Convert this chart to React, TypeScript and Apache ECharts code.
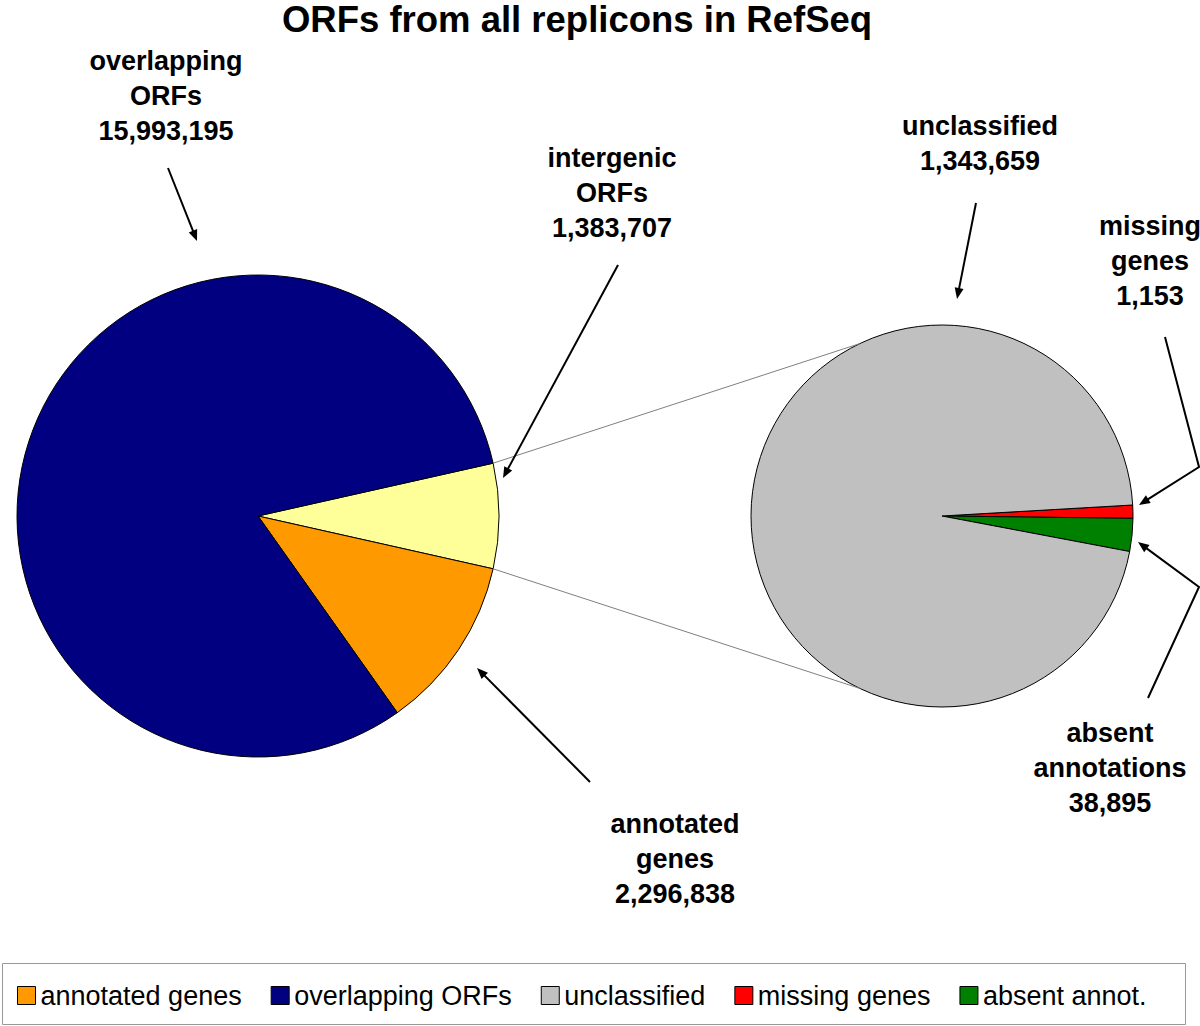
import React, { useEffect, useRef } from 'react';
import * as echarts from 'echarts';

// ---- data ----
const titleText = 'ORFs from all replicons in RefSeq';
const mainNames = ['intergenic ORFs', 'annotated genes', 'overlapping ORFs'];
const mainValues = [1383707, 2296838, 15993195];
const mainColors = ['#FFFF99', '#FF9900', '#000080'];
const subNames = ['missing genes', 'absent annot.', 'unclassified'];
const subValues = [1153, 38895, 1343659];
const subColors = ['#FF0000', '#008000', '#C0C0C0'];
const legendNames = ['annotated genes', 'overlapping ORFs', 'unclassified', 'missing genes', 'absent annot.'];

const fmt = (v: number) => v.toLocaleString('en-US');

// ---- layout ----
const FONT = "'Liberation Sans', Arial, Helvetica, sans-serif";
const MAIN_C = [258, 516];
const MAIN_R = 241;
const SUB_C = [942, 516];
const SUB_R = 191;
const SUB_START = 3.3;
const CONNECT_ANGLE = 115.5;

const callouts = [
  { text: 'overlapping\nORFs\n' + fmt(mainValues[2]), x: 166, y: 61, pts: [[168, 168], [197, 241]] },
  { text: 'intergenic\nORFs\n' + fmt(mainValues[0]), x: 612, y: 158, pts: [[618, 265], [503, 478]] },
  { text: 'annotated\ngenes\n' + fmt(mainValues[1]), x: 675, y: 824, pts: [[590, 782], [477, 668]] },
  { text: 'unclassified\n' + fmt(subValues[2]), x: 980, y: 126, pts: [[976, 203], [957, 299]] },
  { text: 'missing\ngenes\n' + fmt(subValues[0]), x: 1150, y: 226, pts: [[1165, 337], [1199, 467], [1139, 505]] },
  { text: 'absent\nannotations\n' + fmt(subValues[1]), x: 1110, y: 733, pts: [[1148, 698], [1199, 587], [1138, 542]] },
];

function polar(c: number[], r: number, deg: number) {
  const a = (deg * Math.PI) / 180;
  return [c[0] + r * Math.cos(a), c[1] - r * Math.sin(a)];
}

function arrow(pts: number[][]) {
  const els: any[] = [];
  const n = pts.length;
  const tip = pts[n - 1];
  const prev = pts[n - 2];
  const dx = tip[0] - prev[0];
  const dy = tip[1] - prev[1];
  const len = Math.hypot(dx, dy);
  const ux = dx / len;
  const uy = dy / len;
  const L = 11;
  const W = 4.5;
  const base = [tip[0] - ux * L, tip[1] - uy * L];
  const linePts = pts.slice(0, n - 1).concat([[tip[0] - ux * (L - 2), tip[1] - uy * (L - 2)]]);
  els.push({
    type: 'polyline',
    silent: true,
    z: 100,
    shape: { points: linePts },
    style: { stroke: '#000', lineWidth: 2, fill: null },
  });
  els.push({
    type: 'polygon',
    silent: true,
    z: 100,
    shape: {
      points: [
        tip,
        [base[0] - uy * W, base[1] + ux * W],
        [base[0] + uy * W, base[1] - ux * W],
      ],
    },
    style: { fill: '#000' },
  });
  return els;
}

export default function App() {
  const ref = useRef<HTMLDivElement>(null);
  useEffect(() => {
    if (!ref.current) return;
    const chart = echarts.init(ref.current, null, { renderer: 'svg' });
    const mainSum = mainValues.reduce((a, b) => a + b, 0);
    const half = (180 * mainValues[0]) / mainSum;

    const graphics: any[] = [];
    graphics.push({
      type: 'text',
      x: 577,
      y: 19,
      silent: true,
      style: {
        text: titleText,
        fontSize: 36.5,
        fontWeight: 'bold',
        fontFamily: FONT,
        fill: '#000',
        textAlign: 'center',
        textVerticalAlign: 'middle',
      },
    });
    // connector lines between pies
    [1, -1].forEach((s) => {
      const a = polar(MAIN_C, MAIN_R, s * half);
      const b = polar(SUB_C, SUB_R, s * CONNECT_ANGLE);
      graphics.push({
        type: 'line',
        silent: true,
        z: 50,
        shape: { x1: a[0], y1: a[1], x2: b[0], y2: b[1] },
        style: { stroke: '#808080', lineWidth: 1 },
      });
    });
    callouts.forEach((c) => {
      graphics.push({
        type: 'text',
        x: c.x,
        y: c.y - 17.5,
        silent: true,
        z: 100,
        style: {
          text: c.text,
          fontSize: 27,
          fontWeight: 'bold',
          fontFamily: FONT,
          lineHeight: 35,
          fill: '#000',
          textAlign: 'center',
          textVerticalAlign: 'top',
        },
      });
      arrow(c.pts).forEach((e) => graphics.push(e));
    });
    // legend frame
    graphics.push({
      type: 'rect',
      silent: true,
      z: 0,
      shape: { x: 2.5, y: 963.5, width: 1183, height: 61 },
      style: { fill: '#fff', stroke: '#999', lineWidth: 1 },
    });

    const pieCommon = {
      type: 'pie',
      clockwise: true,
      silent: true,
      avoidLabelOverlap: false,
      label: { show: false },
      labelLine: { show: false },
      emphasis: { disabled: true },
      itemStyle: { borderColor: '#000', borderWidth: 1 },
      z: 10,
    };

    chart.setOption({
      animation: false,
      backgroundColor: '#fff',
      legend: {
        data: legendNames,
        left: 17,
        top: 982,
        padding: 0,
        itemWidth: 18,
        itemHeight: 18,
        itemGap: 29,
        icon: 'rect',
        selectedMode: false,
        itemStyle: { borderColor: '#000', borderWidth: 1 },
        textStyle: { fontSize: 27, fontFamily: FONT, color: '#000' },
        z: 20,
      },
      series: [
        {
          ...pieCommon,
          name: 'main',
          center: MAIN_C,
          radius: MAIN_R,
          startAngle: half,
          data: mainNames.map((n, i) => ({ name: n, value: mainValues[i], itemStyle: { color: mainColors[i] } })),
        },
        {
          ...pieCommon,
          name: 'sub',
          center: SUB_C,
          radius: SUB_R,
          startAngle: SUB_START,
          minAngle: 4,
          data: subNames.map((n, i) => ({ name: n, value: subValues[i], itemStyle: { color: subColors[i] } })),
        },
      ],
      graphic: graphics,
    });
    return () => chart.dispose();
  }, []);
  return (
    <div
      ref={ref}
      style={{ position: 'absolute', left: 0, top: 0, width: 1200, height: 1026 }}
    />
  );
}
